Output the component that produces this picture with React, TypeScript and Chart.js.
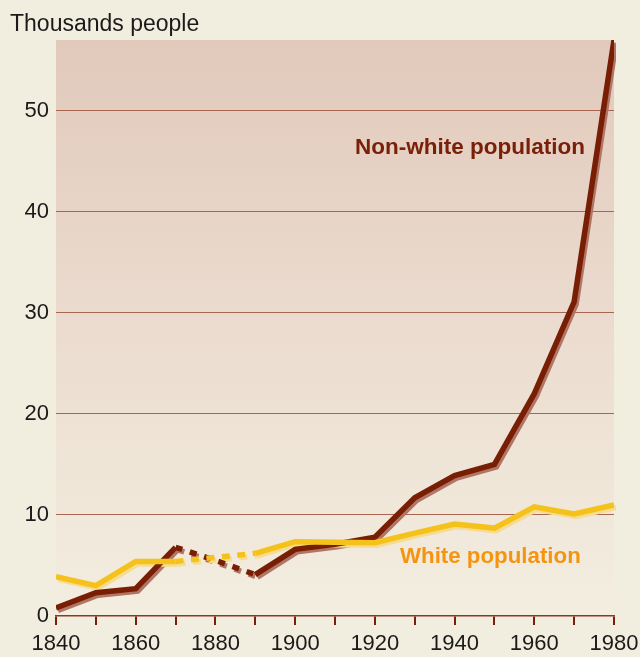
import React, { useEffect, useRef } from "react";
import { Chart, registerables } from "chart.js";

Chart.register(...registerables);

const years = [1840, 1850, 1860, 1870, 1880, 1890, 1900, 1910, 1920, 1930, 1940, 1950, 1960, 1970, 1980];
const nonWhite = [0.8, 2.3, 2.7, 6.8, 5.5, 4.1, 6.6, 7.1, 7.8, 11.7, 13.9, 15.0, 22.0, 31.1, 57];
const white = [3.9, 3.0, 5.4, 5.4, 5.8, 6.2, 7.35, 7.3, 7.25, 8.2, 9.1, 8.7, 10.8, 10.1, 11.0];
const yTicks = [0, 10, 20, 30, 40, 50];
const dottedFrom = 1870;
const dottedTo = 1890;

const titleText = "Thousands people";
const nonWhiteLabel = { text: "Non-white population", year: 1915, value: 46.3 };
const whiteLabel = { text: "White population", year: 1926.3, value: 5.9 };

const BROWN = "#771e05";
const BROWN_SHADOW = "#b07565";
const YELLOW = "#f4c21a";
const YELLOW_SHADOW = "#f6dc92";

export default function App() {
  const ref = useRef<HTMLCanvasElement | null>(null);

  useEffect(() => {
    if (!ref.current) return;
    const pts = (arr: number[]) => years.map((x, i) => ({ x, y: arr[i] }));
    const dashFn = (pattern: number[]) => (ctx: any) => {
      const x0 = ctx.p0.parsed.x;
      const x1 = ctx.p1.parsed.x;
      return x0 >= dottedFrom && x1 <= dottedTo ? pattern : undefined;
    };

    const bgPlugin = {
      id: "bgPlugin",
      beforeDraw(chart: any) {
        const { ctx, chartArea } = chart;
        if (!chartArea) return;
        const g = ctx.createLinearGradient(0, chartArea.top, 0, chartArea.bottom);
        g.addColorStop(0, "#e1c9bb");
        g.addColorStop(0.5, "#ebdccf");
        g.addColorStop(1, "#f3eee0");
        ctx.save();
        ctx.fillStyle = g;
        ctx.fillRect(chartArea.left, chartArea.top, chartArea.right - chartArea.left, chartArea.bottom - chartArea.top);
        ctx.restore();
      },
    };

    const shadowPlugin = {
      id: "shadowPlugin",
      beforeDatasetDraw(chart: any, args: any) {
        const ds = chart.data.datasets[args.index];
        if (ds.isShadow) {
          chart.ctx.save();
          chart.ctx.translate(2, 2.5);
        }
      },
      afterDatasetDraw(chart: any, args: any) {
        const ds = chart.data.datasets[args.index];
        if (ds.isShadow) chart.ctx.restore();
      },
    };

    const textPlugin = {
      id: "textPlugin",
      afterDatasetsDraw(chart: any) {
        const { ctx, scales } = chart;
        ctx.save();
        ctx.fillStyle = "#1a1a1a";
        ctx.font = '23px "Liberation Sans", Arial, sans-serif';
        ctx.textAlign = "left";
        ctx.textBaseline = "alphabetic";
        ctx.fillText(titleText, 10, 31);

        ctx.font = 'bold 22.5px "Liberation Sans", Arial, sans-serif';
        ctx.textBaseline = "middle";
        ctx.fillStyle = "#7a2008";
        ctx.fillText(nonWhiteLabel.text, scales.x.getPixelForValue(nonWhiteLabel.year), scales.y.getPixelForValue(nonWhiteLabel.value));
        ctx.font = 'bold 22.3px "Liberation Sans", Arial, sans-serif';
        ctx.fillStyle = "#f5950f";
        ctx.fillText(whiteLabel.text, scales.x.getPixelForValue(whiteLabel.year), scales.y.getPixelForValue(whiteLabel.value));
        ctx.restore();
      },
    };

    const common = {
      fill: false,
      pointRadius: 0,
      pointHoverRadius: 0,
      tension: 0,
      borderWidth: 5.5,
      borderCapStyle: "butt",
      borderJoinStyle: "miter",
    };

    // Chart.js draws dataset 0 on top, so main lines come first, shadows last.
    const chart = new Chart(ref.current, {
      type: "line",
      data: {
        datasets: [
          { ...common, label: "White population", data: pts(white), borderColor: YELLOW, segment: { borderDash: dashFn([8, 7.5]) } },
          { ...common, label: "Non-white population", data: pts(nonWhite), borderColor: BROWN, segment: { borderDash: dashFn([7, 8]) } },
          { ...common, label: "ws", isShadow: true, data: pts(white), borderColor: YELLOW_SHADOW, segment: { borderDash: dashFn([8, 7.5]) } },
          { ...common, label: "nws", isShadow: true, data: pts(nonWhite), borderColor: BROWN_SHADOW, segment: { borderDash: dashFn([7, 8]) } },
        ] as any,
      },
      options: {
        animation: false,
        responsive: true,
        maintainAspectRatio: false,
        events: [],
        layout: { padding: { top: 40, right: 26, left: 0, bottom: 0 } },
        plugins: { legend: { display: false }, tooltip: { enabled: false }, title: { display: false } },
        scales: {
          x: {
            type: "linear",
            min: years[0],
            max: years[years.length - 1],
            afterBuildTicks: (scale: any) => {
              scale.ticks = years.map((v) => ({ value: v }));
            },
            afterFit: (scale: any) => {
              scale.height = 41;
              scale.paddingLeft = 0;
              scale.paddingRight = 0;
            },
            ticks: {
              autoSkip: false,
              maxRotation: 0,
              padding: 6,
              color: "#1a1a1a",
              font: { family: '"Liberation Sans", Arial, sans-serif', size: 22 },
              callback: (v: any) => (Number(v) % 20 === 0 ? String(v) : ""),
            },
            grid: {
              drawOnChartArea: false,
              drawTicks: true,
              tickLength: 9,
              color: "#7a2008",
              lineWidth: 2,
            },
            border: { display: true, color: "#8a3a22", width: 1.5 },
          },
          y: {
            type: "linear",
            min: 0,
            max: 57,
            afterBuildTicks: (scale: any) => {
              scale.ticks = yTicks.map((v) => ({ value: v }));
            },
            afterFit: (scale: any) => {
              scale.width = 56;
              scale.paddingTop = 0;
              scale.paddingBottom = 0;
            },
            ticks: {
              padding: 7,
              color: "#1a1a1a",
              font: { family: '"Liberation Sans", Arial, sans-serif', size: 22 },
              callback: (v: any) => String(v),
            },
            grid: {
              drawTicks: false,
              color: (c: any) => (c.tick && c.tick.value === 0 ? "rgba(0,0,0,0)" : "#a8654f"),
              lineWidth: 1,
            },
            border: { display: false },
          },
        },
      } as any,
      plugins: [bgPlugin, shadowPlugin, textPlugin],
    });
    return () => chart.destroy();
  }, []);

  return (
    <div style={{ position: "fixed", left: 0, top: 0, width: 640, height: 657, background: "#f2eedf" }}>
      <canvas ref={ref} />
    </div>
  );
}
